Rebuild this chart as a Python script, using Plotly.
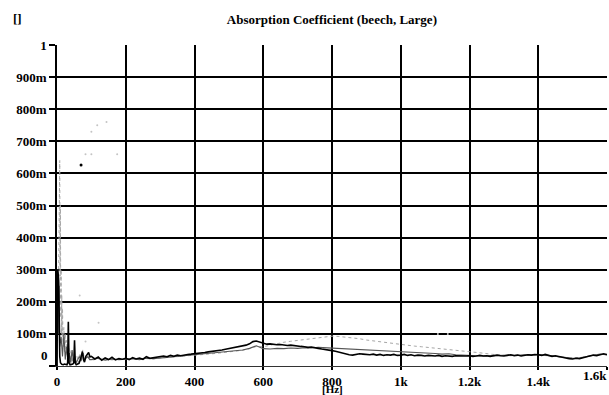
import plotly.graph_objects as go

# ---------------- data ----------------
black_low_f = [0, 1, 2, 3, 4, 5, 6, 8, 10, 14, 18, 22, 26, 29, 31, 33, 35, 38, 42, 46, 49,
               51, 53, 56, 60, 64, 68, 71, 74, 77, 80, 84, 88, 92, 96]
black_low_v = [0.0, 0.12, 0.30, 0.22, 0.28, 0.26, 0.10, 0.03, 0.01, 0.005, 0.004, 0.006, 0.005,
               0.004, 0.01, 0.138, 0.01, 0.004, 0.005, 0.006, 0.01, 0.080, 0.01, 0.004, 0.006,
               0.008, 0.02, 0.03, 0.045, 0.02, 0.012, 0.03, 0.035, 0.042, 0.028]

black_f = list(range(100, 1601, 10))
black_v = [
    0.030, 0.022, 0.028, 0.018, 0.025, 0.020, 0.027, 0.019, 0.023, 0.021,
    0.024, 0.020, 0.026, 0.022, 0.025, 0.021, 0.029, 0.024, 0.026, 0.027,
    0.028, 0.031, 0.029, 0.033, 0.030, 0.034, 0.032, 0.035, 0.036, 0.037,
    0.038, 0.040, 0.039, 0.042, 0.044, 0.045, 0.047, 0.048, 0.050, 0.052,
    0.054, 0.056, 0.058, 0.060, 0.062, 0.065, 0.069, 0.076, 0.078, 0.074,
    0.070, 0.068, 0.069, 0.067, 0.066, 0.067, 0.065, 0.064, 0.065, 0.063,
    0.062, 0.061, 0.060, 0.058, 0.059, 0.056, 0.055, 0.053, 0.052, 0.050,
    0.048, 0.046, 0.043, 0.041, 0.038, 0.035, 0.034, 0.036, 0.038, 0.037,
    0.036, 0.035, 0.037, 0.034, 0.036, 0.033, 0.035, 0.034, 0.036, 0.033,
    0.034, 0.036, 0.033, 0.035, 0.032, 0.034, 0.033, 0.031, 0.033, 0.032,
    0.031, 0.033, 0.030, 0.032, 0.031, 0.030, 0.032, 0.031, 0.030, 0.031,
    0.032, 0.030, 0.031, 0.033, 0.031, 0.032, 0.030, 0.033, 0.034, 0.032,
    0.031, 0.033, 0.035, 0.032, 0.034, 0.031, 0.033, 0.035, 0.034, 0.036,
    0.035, 0.033, 0.036, 0.034, 0.030, 0.032, 0.029, 0.027, 0.025, 0.023,
    0.022, 0.024, 0.023, 0.026, 0.029, 0.031, 0.034, 0.032, 0.036, 0.038,
    0.036,
]

dark_low_f = [0, 2, 4, 6, 8, 12, 16, 20, 24, 28, 32, 36, 40, 44, 48, 52, 56, 60, 65, 70,
              75, 80, 85, 90, 95]
dark_low_v = [0.0, 0.2, 0.1, 0.25, 0.06, 0.09, 0.03, 0.10, 0.02, 0.06, 0.01, 0.04, 0.01,
              0.05, 0.01, 0.03, 0.01, 0.02, 0.03, 0.015, 0.04, 0.02, 0.025, 0.03, 0.02]

dark_f = list(range(100, 1601, 20))
dark_v = [
    0.020, 0.024, 0.018, 0.022, 0.020,
    0.021, 0.023, 0.020, 0.024, 0.023,
    0.026, 0.027, 0.029, 0.031, 0.033,
    0.034, 0.036, 0.038, 0.040, 0.042,
    0.044, 0.047, 0.050, 0.055, 0.063,
    0.054, 0.053, 0.055, 0.054, 0.056,
    0.055, 0.057, 0.056, 0.058, 0.057,
    0.055, 0.054, 0.052, 0.051, 0.050,
    0.049, 0.048, 0.048, 0.046, 0.047,
    0.045, 0.044, 0.042, 0.043, 0.040,
    0.039, 0.037, 0.038, 0.035, 0.034,
    0.032, 0.033, 0.031, 0.032, 0.033,
    0.032, 0.034, 0.033, 0.035, 0.034,
    0.036, 0.034, 0.031, 0.029, 0.026,
    0.024, 0.025, 0.028, 0.033, 0.037,
    0.035,
]

light_low_f = [0, 1, 2, 3, 4, 5, 6, 7, 8, 9, 10, 11, 12, 13, 14, 15, 16, 18, 20, 22, 24,
               26, 28, 31, 34, 37, 41, 44, 47, 50, 54, 58, 62, 66, 70, 75, 80, 85, 90, 95]
light_low_v = [0.0, 0.25, 0.12, 0.30, 0.18, 0.35, 0.20, 0.45, 0.64, 0.28, 0.50, 0.15, 0.30,
               0.10, 0.22, 0.08, 0.18, 0.06, 0.12, 0.04, 0.10, 0.03, 0.08, 0.02, 0.06, 0.01,
               0.05, 0.01, 0.03, 0.01, 0.02, 0.03, 0.01, 0.04, 0.02, 0.05, 0.02, 0.03, 0.025,
               0.02]

light_f = list(range(100, 1601, 20))
light_v = [
    0.018, 0.022, 0.020, 0.019, 0.021,
    0.020, 0.022, 0.021, 0.023, 0.022,
    0.025, 0.026, 0.028, 0.030, 0.032,
    0.033, 0.035, 0.037, 0.039, 0.041,
    0.043, 0.046, 0.049, 0.054, 0.061,
    0.060, 0.065, 0.070, 0.074, 0.077,
    0.080, 0.083, 0.086, 0.089, 0.091,
    0.093, 0.092, 0.090, 0.088, 0.085,
    0.081, 0.078, 0.075, 0.072, 0.069,
    0.066, 0.064, 0.062, 0.060, 0.058,
    0.056, 0.054, 0.052, 0.050, 0.048,
    0.046, 0.043, 0.040, 0.037, 0.034,
    0.033, 0.032, 0.034, 0.033, 0.035,
    0.034, 0.033, 0.031, 0.028, 0.026,
    0.025, 0.026, 0.029, 0.032, 0.036,
    0.034,
]

# stray sample dots
stray_f = [83, 100, 100, 117, 144, 175, 66, 121, 83, 1108, 1137]
stray_v = [0.66, 0.66, 0.73, 0.75, 0.76, 0.66, 0.22, 0.135, 0.076, 0.10, 0.10]
stray_black_f = [70]
stray_black_v = [0.626]

x_ticks = [0, 200, 400, 600, 800, 1000, 1200, 1400, 1600]
x_labels = ["0", "200", "400", "600", "800", "1k", "1.2k", "1.4k", ""]
y_ticks = [0, 0.1, 0.2, 0.3, 0.4, 0.5, 0.6, 0.7, 0.8, 0.9, 1.0]
y_labels = ["", "100m", "200m", "300m", "400m", "500m", "600m", "700m", "800m", "900m", "1"]

# ---------------- figure ----------------
FONT = "Liberation Serif"
fig = go.Figure()

fig.add_trace(go.Scatter(x=light_low_f + light_f, y=light_low_v + light_v, mode="lines",
                         line=dict(color="#a6a6a6", width=1, dash="dot"), hoverinfo="skip"))
fig.add_trace(go.Scatter(x=dark_low_f + dark_f, y=dark_low_v + dark_v, mode="lines",
                         line=dict(color="#555555", width=1.1), hoverinfo="skip"))
fig.add_trace(go.Scatter(x=black_low_f + black_f, y=black_low_v + black_v, mode="lines",
                         line=dict(color="#000000", width=1.6), hoverinfo="skip"))
fig.add_trace(go.Scatter(x=stray_f, y=stray_v, mode="markers",
                         marker=dict(color="#c4c4c4", size=2), hoverinfo="skip"))
fig.add_trace(go.Scatter(x=stray_black_f, y=stray_black_v, mode="markers",
                         marker=dict(color="#000000", size=3), hoverinfo="skip"))

axis_font = dict(family=FONT, size=13, color="black", weight="bold")

fig.update_layout(
    width=609, height=395,
    margin=dict(l=57, r=2, t=45, b=29),
    paper_bgcolor="white", plot_bgcolor="white",
    showlegend=False,
    title=dict(text="Absorption Coefficient (beech, Large)",
               x=0.545, xanchor="center", y=1 - 19 / 395, yanchor="middle",
               yref="container",
               font=dict(family=FONT, size=13, color="black", weight="bold")),
    xaxis=dict(range=[0, 1600], tickvals=x_ticks, ticktext=x_labels,
               showgrid=True, gridcolor="black", gridwidth=1.5,
               zeroline=False, showline=True, linecolor="#333333", linewidth=1,
               ticks="outside", ticklen=3, tickcolor="black", tickwidth=1.5,
               tickfont=axis_font),
    yaxis=dict(range=[0, 1.0], tickvals=y_ticks, ticktext=y_labels,
               showgrid=True, gridcolor="black", gridwidth=1.5,
               zeroline=False, showline=True, linecolor="black", linewidth=1.5,
               ticks="outside", ticklen=6, tickcolor="black", tickwidth=1.5,
               tickfont=axis_font),
    annotations=[
        dict(text="0", xref="paper", x=0, xanchor="right", xshift=-7,
             yref="y", y=0.034, yanchor="middle", showarrow=False, font=axis_font),
        dict(text="1.6k", xref="x", x=1600, xanchor="right", xshift=2,
             yref="paper", y=0, yanchor="top", yshift=0, showarrow=False, font=axis_font),
        dict(text="[Hz]", xref="x", x=800, xanchor="center",
             yref="paper", y=0, yanchor="top", yshift=-15, showarrow=False,
             font=dict(family=FONT, size=11, color="black", weight="bold")),
        dict(text="[]", xref="paper", x=-0.072, xanchor="center",
             yref="paper", y=1.081, yanchor="middle", showarrow=False, font=axis_font),
    ],
)

fig.write_html("out.html")
